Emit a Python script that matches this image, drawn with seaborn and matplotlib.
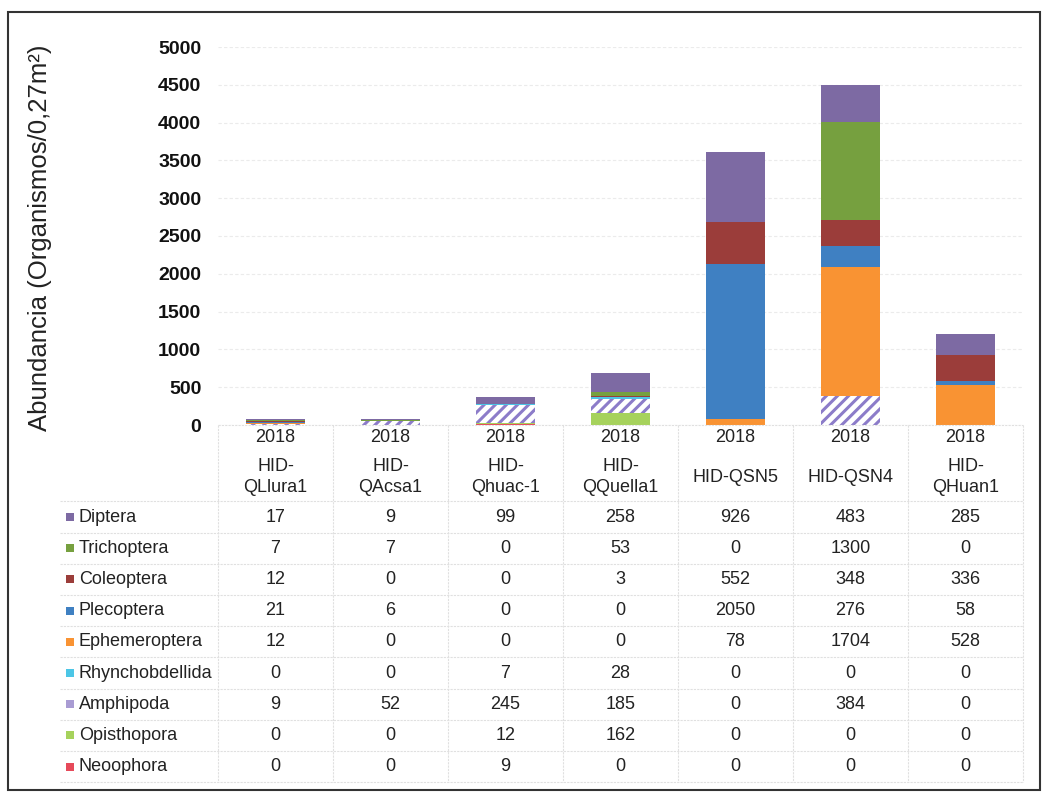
import matplotlib
matplotlib.use("Agg")
import matplotlib.pyplot as plt
import matplotlib.transforms as mtransforms
from matplotlib.patches import Rectangle
from matplotlib.lines import Line2D
import seaborn as sns
import numpy as np

# ---------------- data ----------------
years = ["2018", "2018", "2018", "2018", "2018", "2018", "2018"]
sites = ["HID-QLlura1", "HID-QAcsa1", "HID-Qhuac-1", "HID-QQuella1", "HID-QSN5", "HID-QSN4", "HID-QHuan1"]
site_labels = ["HID-\nQLlura1", "HID-\nQAcsa1", "HID-\nQhuac-1", "HID-\nQQuella1", "HID-QSN5", "HID-QSN4", "HID-\nQHuan1"]
taxa = ["Diptera", "Trichoptera", "Coleoptera", "Plecoptera", "Ephemeroptera",
        "Rhynchobdellida", "Amphipoda", "Opisthopora", "Neoophora"]
diptera = [17, 9, 99, 258, 926, 483, 285]
trichoptera = [7, 7, 0, 53, 0, 1300, 0]
coleoptera = [12, 0, 0, 3, 552, 348, 336]
plecoptera = [21, 6, 0, 0, 2050, 276, 58]
ephemeroptera = [12, 0, 0, 0, 78, 1704, 528]
rhynchobdellida = [0, 0, 7, 28, 0, 0, 0]
amphipoda = [9, 52, 245, 185, 0, 384, 0]
opisthopora = [0, 0, 12, 162, 0, 0, 0]
neoophora = [0, 0, 9, 0, 0, 0, 0]
yticks = [0, 500, 1000, 1500, 2000, 2500, 3000, 3500, 4000, 4500, 5000]
ylabel = "Abundancia (Organismos/0,27m²)"

series = {
    "Diptera": diptera, "Trichoptera": trichoptera, "Coleoptera": coleoptera,
    "Plecoptera": plecoptera, "Ephemeroptera": ephemeroptera,
    "Rhynchobdellida": rhynchobdellida, "Amphipoda": amphipoda,
    "Opisthopora": opisthopora, "Neoophora": neoophora,
}
colors = {
    "Diptera": "#7D6AA3", "Trichoptera": "#76A03F", "Coleoptera": "#9B3D3A",
    "Plecoptera": "#3F80C2", "Ephemeroptera": "#F99333", "Rhynchobdellida": "#4CC6E6",
    "Amphipoda": "#A99CD3", "Opisthopora": "#A6D25C", "Neoophora": "#E64A5A",
}

# ---------------- figure ----------------
sns.set_theme(style="white")
plt.rcParams["font.family"] = ["Liberation Sans", "DejaVu Sans"]
plt.rcParams["hatch.linewidth"] = 2.2

W, H = 1049, 794
fig = plt.figure(figsize=(W / 100, H / 100), dpi=100)
fig.patch.set_facecolor("white")

def fx(px):
    return px / W

def fy(py):
    return 1 - py / H

ax_left, ax_right, ax_bottom, ax_top = 218, 1023, 425, 47
ax = fig.add_axes([fx(ax_left), fy(ax_bottom), fx(ax_right - ax_left), fy(ax_top) - fy(ax_bottom)])

bottom = np.zeros(len(sites))
for name in reversed(taxa):
    vals = np.array(series[name], dtype=float)
    sns.barplot(x=sites, y=vals, order=sites, color=colors[name], width=0.51,
                bottom=bottom, errorbar=None, ax=ax, linewidth=0, saturation=1)
    if name == "Amphipoda":
        for p in ax.containers[-1]:
            p.set_facecolor("white")
            p.set_edgecolor("#8C7CC9")
            p.set_hatch("///")
            p.set_linewidth(0)
    bottom += vals

ax.set_xlim(-0.5, len(sites) - 0.5)
ax.set_ylim(0, 5000)
ax.set_yticks(yticks)
ax.set_yticklabels([str(t) for t in yticks], fontsize=14, fontweight="bold", color="#111111")
ax.tick_params(axis="y", length=0, pad=12)
ax.set_xticks([])
ax.set_xlabel("")
ax.set_ylabel("")
for s in ax.spines.values():
    s.set_visible(False)
ax.yaxis.grid(True, color="#ebebeb", linewidth=0.8, linestyle=(0, (3, 2)))
ax.set_axisbelow(True)

fig.text(fx(40), fy(238), ylabel, rotation=90, ha="center", va="center",
         fontsize=18.5, color="#222222")

# ---------------- data table ----------------
trans = mtransforms.blended_transform_factory(ax.transData, fig.transFigure)
line_kw = dict(color="#e0e0e0", linewidth=0.8, linestyle=(0, (2, 1)))

row_y0 = 517
row_h = 31.2
for i, (yr, lab) in enumerate(zip(years, site_labels)):
    fig.text(i, fy(438), yr, transform=trans, ha="center", va="center", fontsize=13, color="#222222")
    fig.text(i, fy(477), lab, transform=trans, ha="center", va="center", fontsize=13,
             color="#222222", linespacing=1.35)

for r, name in enumerate(taxa):
    py = row_y0 + r * row_h
    fig.add_artist(Rectangle((fx(66), fy(py + 4)), fx(8), 8 / H, facecolor=colors[name],
                             edgecolor="none", transform=fig.transFigure))
    fig.text(fx(79), fy(py), name, ha="left", va="center", fontsize=13, color="#222222")
    for i, v in enumerate(series[name]):
        fig.text(i, fy(py), str(v), transform=trans, ha="center", va="center",
                 fontsize=13, color="#222222")

# horizontal table lines
for k in range(len(taxa) + 1):
    py = row_y0 - row_h / 2 + k * row_h
    fig.add_artist(Line2D([fx(60), fx(ax_right)], [fy(py), fy(py)], transform=fig.transFigure, **line_kw))
fig.add_artist(Line2D([fx(ax_left), fx(ax_right)], [fy(ax_bottom), fy(ax_bottom)],
                      transform=fig.transFigure, **line_kw))
# vertical table lines
ybot = fy(row_y0 - row_h / 2 + len(taxa) * row_h)
for i in range(len(sites) + 1):
    fig.add_artist(Line2D([i - 0.5, i - 0.5], [fy(ax_bottom), ybot], transform=trans, **line_kw))

# outer frame
fig.add_artist(Rectangle((fx(8), fy(790)), fx(1032), (790 - 12) / H, facecolor="none",
                         edgecolor="#333333", linewidth=1.5, transform=fig.transFigure))

fig.savefig("out.png", dpi=100)
